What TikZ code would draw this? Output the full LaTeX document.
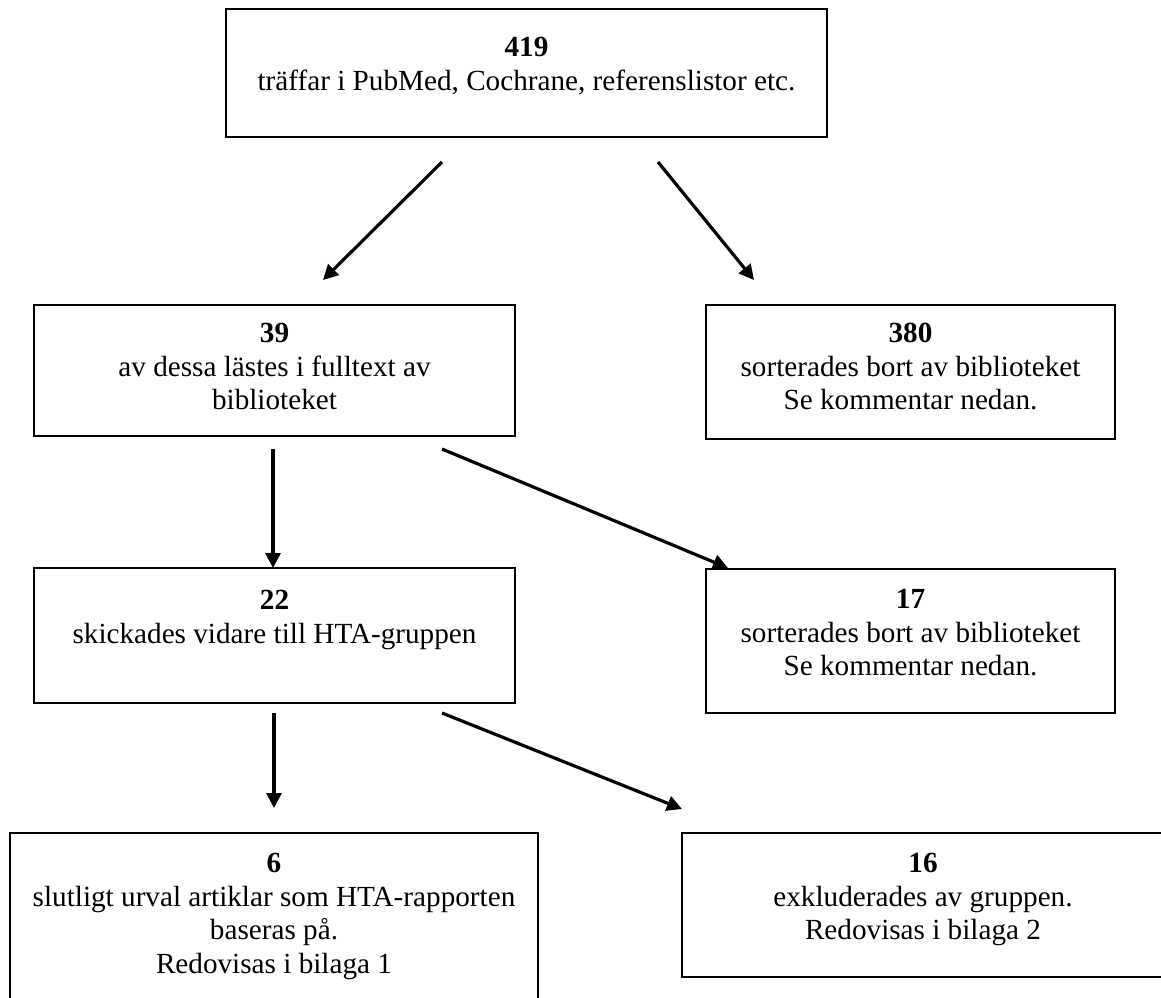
\documentclass[tikz,border=0pt]{standalone}
\usepackage{fontspec}
\setmainfont{Liberation Serif}
\usetikzlibrary{arrows.meta}
\begin{document}
\begin{tikzpicture}[x=0.5pt,y=-0.5pt,
  box/.style={draw, line width=1pt, inner sep=0pt},
  txt/.style={align=center, font=\fontsize{14.6pt}{16.75pt}\selectfont, inner sep=0pt, anchor=north},
  arr/.style={line width=1.6pt, -{Triangle[length=7.5pt,width=7.5pt]}}]
\useasboundingbox (0,0) rectangle (1161,997);
\fill[white] (0,0) rectangle (1161,997);
% boxes
\node[box, minimum width=300.5pt, minimum height=64pt] (b1) at (526.5,73) {};
\node[box, minimum width=240.5pt, minimum height=65.5pt] (b2) at (274.5,370.5) {};
\node[box, minimum width=204.5pt, minimum height=67pt] (b3) at (910.5,372) {};
\node[box, minimum width=240.5pt, minimum height=67.5pt] (b4) at (274.5,635.5) {};
\node[box, minimum width=204.5pt, minimum height=72pt] (b5) at (910.5,641) {};
\node[box, minimum width=264pt, minimum height=86pt] (b6) at (274,919) {};
\node[box, minimum width=241pt, minimum height=72pt] (b7) at (923,905) {};
% texts
\node[txt] (t1) at (526.5,37) {\textbf{419}\\träffar i PubMed, Cochrane, referenslistor etc.};
\node[txt] (t2) at (274.5,323) {\textbf{39}\\av dessa lästes i fulltext av\\biblioteket};
\node[txt] (t3) at (910.5,323) {\textbf{380}\\sorterades bort av biblioteket\\Se kommentar nedan.};
\node[txt] (t4) at (274.5,590) {\textbf{22}\\skickades vidare till HTA-gruppen};
\node[txt] (t5) at (910.5,589) {\textbf{17}\\sorterades bort av biblioteket\\Se kommentar nedan.};
\node[txt] (t6) at (274,853) {\textbf{6}\\slutligt urval artiklar som HTA-rapporten\\baseras på.\\Redovisas i bilaga 1};
\node[txt] (t7) at (923,853) {\textbf{16}\\exkluderades av gruppen.\\Redovisas i bilaga 2};
% arrow end points
\coordinate (a1s) at (442,162); \coordinate (a1e) at (323,280);
\coordinate (a2s) at (658,162); \coordinate (a2e) at (754,280);
\coordinate (a3s) at (273,449); \coordinate (a3e) at (273,568);
\coordinate (a4s) at (442,449); \coordinate (a4e) at (728,568);
\coordinate (a5s) at (274,713); \coordinate (a5e) at (274,808);
\coordinate (a6s) at (442,713); \coordinate (a6e) at (682,809);
\draw[arr] (a1s) -- (a1e);
\draw[arr] (a2s) -- (a2e);
\draw[arr] (a3s) -- (a3e);
\draw[arr] (a4s) -- (a4e);
\draw[arr] (a5s) -- (a5e);
\draw[arr] (a6s) -- (a6e);
\end{tikzpicture}
\end{document}
